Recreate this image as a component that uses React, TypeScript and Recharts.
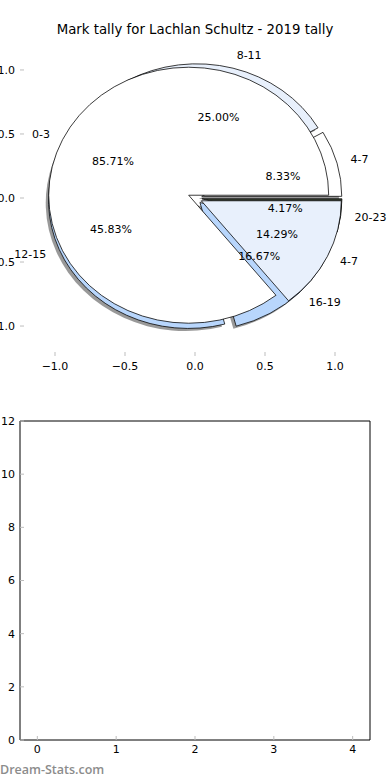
import { PieChart, Pie, Cell, ScatterChart, Scatter, XAxis, YAxis } from 'recharts';

// mark tally, two overlaid pies (matplotlib style)
const bandsOuter = ['4-7', '8-11', '12-15', '16-19', '20-23'];
const tallyOuter = [2, 6, 11, 4, 1];
const coloursOuter = ['#ffffff', '#e8f0fc', '#b8d6fc', '#b8d6fc', '#3b4434'];

const bandsInner = ['0-3', '4-7'];
const tallyInner = [6, 1];
const coloursInner = ['#ffffff', '#e8f0fc'];

const pieTicks = [-1, -0.5, 0, 0.5, 1];
const emptyXTicks = [0, 1, 2, 3, 4];
const emptyYTicks = [0, 2, 4, 6, 8, 10, 12];
const noPoints: { x: number; y: number }[] = [];

const FONT = '"DejaVu Sans", sans-serif';
const CX = 195;
const CY = 198;
const R = 140;
const SY = 128 / 140; // axes are not square, so the pie is an ellipse
const EXPLODE = 0.05;
const TICK_GREY = '#bdbdbd';

const outerData = bandsOuter.map((name, i) => ({ name, value: tallyOuter[i] }));
const innerData = bandsInner.map((name, i) => ({ name, value: tallyInner[i] }));

const midAngles = (vals: number[]) => {
  const total = vals.reduce((a, b) => a + b, 0);
  let acc = 0;
  return vals.map((v) => {
    const m = ((acc + v / 2) / total) * 360;
    acc += v;
    return m;
  });
};

const wedgeTransform = (mid: number, ox = 0, oy = 0) => {
  const rad = (mid * Math.PI) / 180;
  const dx = EXPLODE * R * Math.cos(rad) + ox;
  const dy = -EXPLODE * R * SY * Math.sin(rad) + oy;
  return `translate(${dx} ${dy}) translate(${CX} ${CY}) scale(1 ${SY}) translate(${-CX} ${-CY})`;
};

const wedgeLabel = (p: any) => {
  const rad = (p.midAngle * Math.PI) / 180;
  const r = p.outerRadius;
  const ex = p.cx + EXPLODE * r * Math.cos(rad);
  const ey = p.cy - EXPLODE * r * SY * Math.sin(rad);
  const lx = ex + 1.1 * r * Math.cos(rad);
  const ly = ey - 1.1 * r * SY * Math.sin(rad);
  const px = ex + 0.6 * r * Math.cos(rad);
  const py = ey - 0.6 * r * SY * Math.sin(rad);
  return (
    <g>
      <text x={lx} y={ly} textAnchor={lx > p.cx ? 'start' : 'end'} dominantBaseline="central"
        fill="#000" fontSize={11} fontFamily={FONT}>
        {p.name}
      </text>
      <text x={px} y={py} textAnchor="middle" dominantBaseline="central"
        fill="#000" fontSize={11} fontFamily={FONT}>
        {(p.percent * 100).toFixed(2)}%
      </text>
    </g>
  );
};

const fmtPie = (v: number) => (v < 0 ? '\u2212' : '') + Math.abs(v).toFixed(1);

const tickText = { fill: '#000', fontSize: 11, fontFamily: FONT };

function FrameAxes(props: {
  xDomain: [number, number];
  yDomain: [number, number];
  xTicks: number[];
  yTicks: number[];
  frame: boolean;
  top: number;
  xHeight: number;
  xGap: number;
  xFormat?: (v: number) => string;
  yFormat?: (v: number) => string;
}) {
  const line = props.frame ? { stroke: '#000' } : false;
  const tl = { stroke: TICK_GREY };
  // the top / right axes need a 1px box, otherwise recharts skips them
  return (
    <ScatterChart width={390} height={380} margin={{ top: props.top - 1, right: 19, bottom: 0, left: 0 }}>
      <XAxis xAxisId="b" dataKey="x" type="number" domain={props.xDomain} ticks={props.xTicks} interval={0}
        tickFormatter={props.xFormat} axisLine={line} tickLine={tl} tickSize={-4} tickMargin={props.xGap}
        height={props.xHeight} tick={tickText} allowDataOverflow />
      <XAxis xAxisId="t" dataKey="x" orientation="top" type="number" domain={props.xDomain} ticks={props.xTicks}
        interval={0} axisLine={line} tickLine={tl} tickSize={-4} tick={false} height={1} allowDataOverflow />
      <YAxis yAxisId="l" dataKey="y" type="number" domain={props.yDomain} ticks={props.yTicks} interval={0}
        tickFormatter={props.yFormat} axisLine={line} tickLine={tl} tickSize={-4} tickMargin={9}
        width={20} tick={tickText} allowDataOverflow />
      <YAxis yAxisId="r" dataKey="y" orientation="right" type="number" domain={props.yDomain} ticks={props.yTicks}
        interval={0} axisLine={line} tickLine={tl} tickSize={-4} tick={false} width={1} allowDataOverflow />
      <Scatter xAxisId="b" yAxisId="l" data={noPoints} isAnimationActive={false} />
      <Scatter xAxisId="t" yAxisId="r" data={noPoints} isAnimationActive={false} />
    </ScatterChart>
  );
}

export default function App() {
  const midsOuter = midAngles(tallyOuter);
  const midsInner = midAngles(tallyInner);

  const pieBase = {
    cx: CX,
    cy: CY,
    outerRadius: R,
    innerRadius: 0,
    startAngle: 0,
    endAngle: 360,
    dataKey: 'value',
    nameKey: 'name',
    labelLine: false,
    isAnimationActive: false,
  };

  return (
    <div style={{ position: 'absolute', left: 0, top: 0, width: 390, height: 780, background: '#fff' }}>
      {/* pie axes (no frame, ticks only) */}
      <div style={{ position: 'absolute', left: 0, top: 0 }}>
        <FrameAxes xDomain={[-1.25, 1.25]} yDomain={[-1.234, 1.234]} xTicks={pieTicks} yTicks={pieTicks}
          frame={false} top={40} xHeight={24} xGap={10} xFormat={fmtPie} yFormat={fmtPie} />
      </div>

      <div style={{ position: 'absolute', left: 0, top: 0 }}>
        <PieChart width={390} height={380} margin={{ top: 0, right: 0, bottom: 0, left: 0 }}>
          {/* shadow of the exploded outer pie */}
          <Pie {...pieBase} data={outerData} stroke="none" label={false}>
            {outerData.map((d, i) => (
              <Cell key={`s-${d.name}`} fill="#333" fillOpacity={0.5}
                transform={wedgeTransform(midsOuter[i], -2.8, 2.6)} />
            ))}
          </Pie>
          <Pie {...pieBase} data={outerData} stroke="#000" strokeWidth={0.8} label={false}>
            {outerData.map((d, i) => (
              <Cell key={`o-${d.name}`} fill={coloursOuter[i]} transform={wedgeTransform(midsOuter[i])} />
            ))}
          </Pie>
          <Pie {...pieBase} data={innerData} stroke="#000" strokeWidth={0.8} label={false}>
            {innerData.map((d, i) => (
              <Cell key={`i-${d.name}`} fill={coloursInner[i]} transform={wedgeTransform(midsInner[i])} />
            ))}
          </Pie>
          {/* text layers on top of all wedges */}
          <Pie {...pieBase} data={outerData} fill="none" stroke="none" label={wedgeLabel} />
          <Pie {...pieBase} data={innerData} fill="none" stroke="none" label={wedgeLabel} />
        </PieChart>
      </div>

      <div style={{ position: 'absolute', left: 0, top: 21, width: 390, textAlign: 'center',
        fontFamily: FONT, fontSize: 13.3, color: '#000', lineHeight: '18px' }}>
        Mark tally for Lachlan Schultz - 2019 tally
      </div>

      {/* empty second axes */}
      <div style={{ position: 'absolute', left: 0, top: 400 }}>
        <FrameAxes xDomain={[-0.22, 4.22]} yDomain={[0, 12]} xTicks={emptyXTicks} yTicks={emptyYTicks}
          frame top={21} xHeight={40} xGap={9} />
      </div>

      <div style={{ position: 'absolute', left: 0, top: 762, fontFamily: '"Open Sans", sans-serif',
        fontWeight: 600, fontSize: 12.5, color: '#8c8c8c', lineHeight: '16px' }}>
        Dream-Stats.com
      </div>
    </div>
  );
}
